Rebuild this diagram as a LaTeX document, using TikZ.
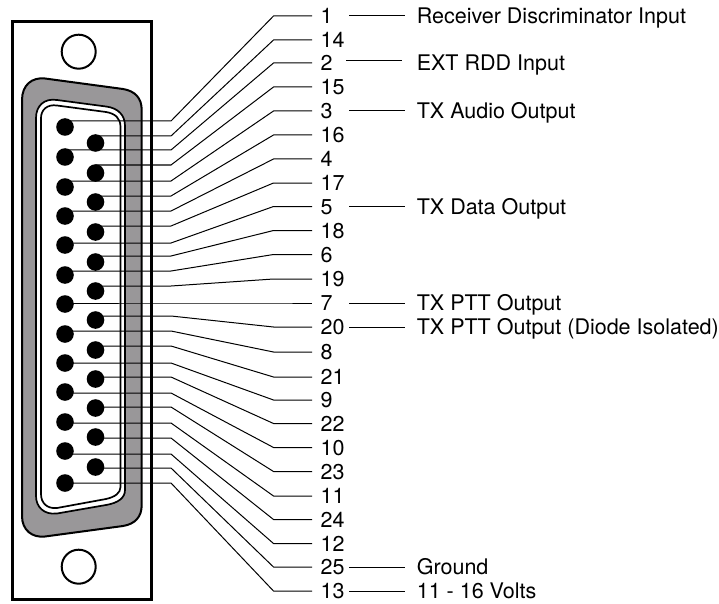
\documentclass[tikz,border=0pt]{standalone}
\usepackage{fontspec}
\setmainfont{TeX Gyre Heros}
\definecolor{shellgray}{HTML}{999799}
\tikzset{
  plate/.style={draw=black,line width=3pt,fill=white},
  hole/.style={draw=black,line width=2pt,fill=white},
  shell/.style={draw=black,line width=2pt,fill=shellgray},
  innershell/.style={draw=black,line width=1.7pt,fill=white},
  pin/.style={circle,fill=black,inner sep=0pt,minimum size=17.6pt},
  wire/.style={draw=black,line width=1pt},
  numlabel/.style={anchor=west,font=\fontsize{21.5pt}{24pt}\selectfont,inner xsep=8.5pt,inner ysep=0pt,text width=20pt,align=left,text height=15.3pt,text depth=0pt},
  desclabel/.style={anchor=west,font=\fontsize{21.5pt}{24pt}\selectfont,inner xsep=11.6pt,inner ysep=0pt,text height=15.3pt,text depth=0pt}
}
\begin{document}
\begin{tikzpicture}[x=1pt,y=-1pt]
\useasboundingbox (0,0) rectangle (719,604);
\path[plate] (12.5,21.5) rectangle (151.2,599);
\path[hole] (78.7,51.7) circle (17pt);
\path[hole] (78.7,566.7) circle (17pt);
\path[shell] (22,100) .. controls (22,85) and (32,77) .. (45,78.5) -- (123,89)
  .. controls (135,91) and (141.7,98) .. (141.7,110) -- (141.7,505)
  .. controls (141.7,517) and (135,524) .. (123,526) -- (45,536.5)
  .. controls (32,538) and (22,530) .. (22,516) -- cycle;
\path[innershell] (36,118) .. controls (36,106) and (44,98) .. (57,100) -- (106,106.5)
  .. controls (118,108) and (125,115) .. (125,126) -- (125,490)
  .. controls (125,498) and (118,503) .. (106,505) -- (57,513.5)
  .. controls (44,515) and (36,507) .. (36,496) -- cycle;
\path[innershell] (41,118) .. controls (41,110) and (47,104) .. (57,105.5) -- (106,112)
  .. controls (115,113.5) and (120.5,118) .. (120.5,127) -- (120.5,487)
  .. controls (120.5,493) and (115,497) .. (106,499) -- (57,508)
  .. controls (47,509) and (41,503) .. (41,494) -- cycle;
\foreach \n/\px/\py/\ly/\ry in {
  1/65/127/121/16, 14/95.5/143/136/40, 2/65/157/150/63, 15/95.5/173/165/87,
  3/65/187/181/111, 16/95.5/202/196/135, 4/65/216/211/159, 17/95.5/232/226/183,
  5/65/245/243/206.5, 18/95.5/262/256/230.5, 6/65/275/271/254.5, 19/95.5/291/286/279,
  7/65/304/303/303, 20/95.5/320/316/327, 8/65/334/331/352, 21/95.5/350/346/377,
  9/65/363/363/400, 22/95.5/379/377/423.5, 10/65/392/393/447.5, 23/95.5/408/407/471.5,
  11/65/422/423/496, 24/95.5/437/438/519.5, 12/65/451/454/543.5, 25/95.5/467/468/567,
  13/65/483/483/591}{
  \node[pin] (p\n) at (\px,\py) {};
  \coordinate (a\n) at (171,\ly);
  \coordinate (b\n) at (273.5,\ry);
  \node[numlabel] (n\n) at (312,\ry) {\n};
  \draw[wire] (p\n.center |- a\n) -- (a\n) -- (b\n) -- (n\n.west);
}
\node[desclabel] (d1) at (405,16) {Receiver Discriminator Input};
\node[desclabel] (d2) at (405,63) {EXT RDD Input};
\node[desclabel] (d3) at (405,111) {TX Audio Output};
\node[desclabel] (d5) at (405,206.5) {TX Data Output};
\node[desclabel] (d7) at (405,303) {TX PTT Output};
\node[desclabel] (d20) at (405,327) {TX PTT Output (Diode Isolated)};
\node[desclabel] (d25) at (405,567) {Ground};
\node[desclabel] (d13) at (405,591) {11 - 16 Volts};
\foreach \n in {1,3,5,7,20,25,13}{
  \draw[wire] (n\n.east) -- (d\n.west);
}
\draw[wire] ([shift={(-3,-2.3)}]n2.east) -- ([shift={(-3,-2.3)}]d2.west);
\end{tikzpicture}
\end{document}
